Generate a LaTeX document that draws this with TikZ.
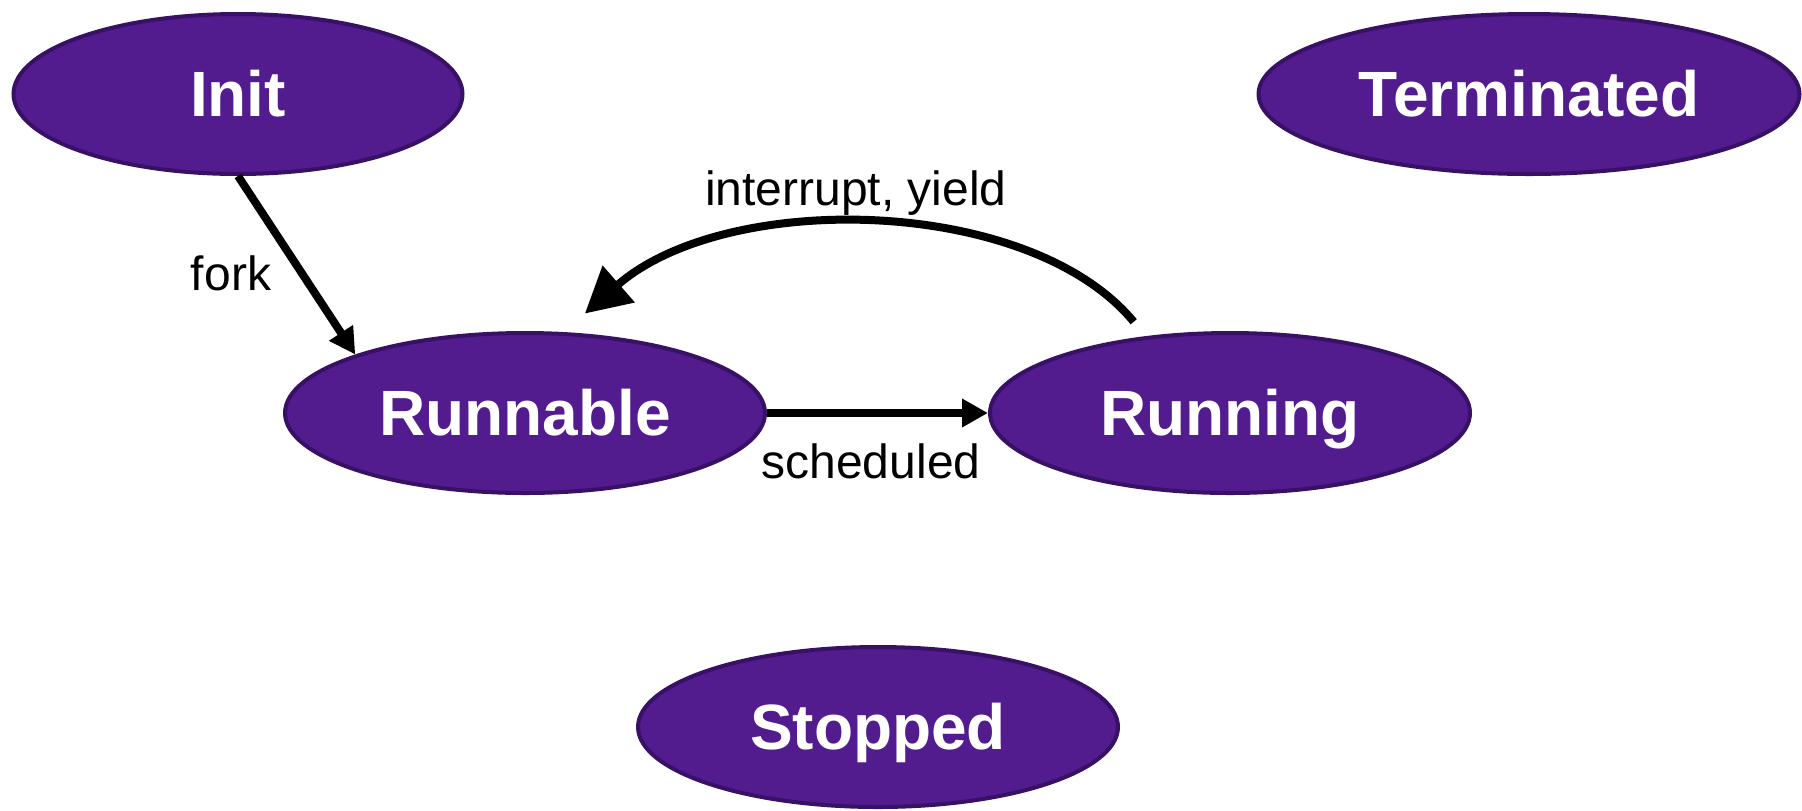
\documentclass[tikz,border=0pt]{standalone}
\usepackage{fontspec}
\setmainfont{Liberation Sans}
\usetikzlibrary{arrows.meta,shapes.geometric}
\definecolor{statefill}{HTML}{521C8F}
\definecolor{stateedge}{HTML}{381166}
\begin{document}
\begin{tikzpicture}[x=0.5pt,y=-0.5pt,
  state/.style={ellipse, draw=stateedge, line width=2pt, fill=statefill,
    text=white, font=\fontsize{32}{32}\selectfont\bfseries,
    minimum width=240pt, minimum height=80pt, inner sep=0pt,
    text height=22.9pt, text depth=0pt},
  flow/.style={line width=4pt, -{Triangle[length=13pt,width=13.5pt]}},
  lbl/.style={font=\fontsize{24}{24}\selectfont, anchor=base, inner sep=0pt}]
\useasboundingbox (0,0) rectangle (1802,810);

% states
\node[state, minimum width=224.5pt] (init) at (238,94) {Init};
\node[state, minimum width=270.5pt] (term) at (1529,94) {Terminated};
\node[state] (runnable) at (525,413) {Runnable};
\node[state] (running) at (1230,413) {Running};
\node[state] (stopped) at (878,727) {Stopped};

% transitions
\draw[flow] (init.south) -- (runnable.161);
\draw[flow] (runnable.east) -- (running.west);
\draw[flow, -{Triangle[length=22.5pt,width=23.5pt]}]
  ([yshift=8pt]running.142) .. controls +(-104,-126) and +(142,-124) .. ([yshift=10pt]runnable.53);

% transition labels
\node[lbl] (lfork) at (231,290) {fork};
\node[lbl] (lsched) at (871,478) {scheduled};
\node[lbl] (lyield) at (856,205) {interrupt, yield};
\end{tikzpicture}
\end{document}
